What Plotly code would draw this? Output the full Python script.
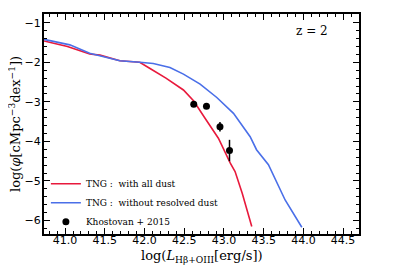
import plotly.graph_objects as go

# Red curve: TNG with all dust
red_x = [40.735, 41.03, 41.31, 41.44, 41.69, 41.94, 42.08, 42.27, 42.49, 42.62, 42.76, 42.93, 43.08, 43.14, 43.23, 43.35]
red_y = [-1.46, -1.60, -1.79, -1.82, -1.96, -2.00, -2.17, -2.40, -2.70, -2.98, -3.41, -3.92, -4.55, -4.76, -5.31, -6.15]

# Blue curve: TNG without resolved dust
blue_x = [40.735, 41.06, 41.31, 41.69, 41.94, 42.11, 42.32, 42.49, 42.70, 42.91, 43.12, 43.33, 43.41, 43.56, 43.77, 43.98]
blue_y = [-1.42, -1.56, -1.77, -1.96, -2.00, -2.03, -2.13, -2.30, -2.55, -2.89, -3.29, -3.88, -4.21, -4.59, -5.48, -6.17]

# Khostovan+2015 observations
obs_x = [42.62, 42.78, 42.95, 43.07]
obs_y = [-3.06, -3.11, -3.63, -4.23]
obs_err = [0.04, 0.04, 0.12, 0.27]

serif = "DejaVu Serif"
sans = "DejaVu Sans"

fig = go.Figure()
fig.add_trace(go.Scatter(x=red_x, y=red_y, mode="lines", line=dict(color="#e8193c", width=1.6),
                         name="TNG :  with all dust"))
fig.add_trace(go.Scatter(x=blue_x, y=blue_y, mode="lines", line=dict(color="#4a6fe8", width=1.6),
                         name="TNG :  without resolved dust"))
fig.add_trace(go.Scatter(x=obs_x, y=obs_y, mode="markers",
                         marker=dict(color="black", size=7),
                         error_y=dict(type="data", array=obs_err, color="black", thickness=1.5, width=0),
                         name="Khostovan + 2015"))

axis_common = dict(
    showgrid=False, zeroline=False, showline=True, linecolor="black", linewidth=2,
    mirror="allticks", ticks="inside", ticklen=6, tickwidth=1.2, tickcolor="black",
    tickfont=dict(family=sans, size=11, color="black"), automargin=False,
)

fig.update_xaxes(range=[40.735, 44.70], tickvals=[41.0, 41.5, 42.0, 42.5, 43.0, 43.5, 44.0, 44.5],
                 ticktext=["41.0", "41.5", "42.0", "42.5", "43.0", "43.5", "44.0", "44.5"],
                 ticklabelstandoff=-5,
                 minor=dict(dtick=0.1, tick0=41.0, ticks="inside", ticklen=3, tickcolor="black", tickwidth=1),
                 **axis_common)
fig.update_yaxes(range=[-6.34, -0.78], tickvals=[-1, -2, -3, -4, -5, -6],
                 ticktext=["−1", "−2", "−3", "−4", "−5", "−6"],
                 ticklabelstandoff=-1,
                 minor=dict(dtick=0.2, tick0=-6, ticks="inside", ticklen=3, tickcolor="black", tickwidth=1),
                 **axis_common)

# axis titles as annotations for precise placement
fig.add_annotation(x=0.5, y=-0.102, xref="paper", yref="paper", xanchor="center", yanchor="middle",
                   text="log(<i>L</i><sub>Hβ+OIII</sub>[erg/s])", showarrow=False,
                   font=dict(family=serif, size=13, color="black"))
fig.add_annotation(x=-0.092, y=0.5, xref="paper", yref="paper", xanchor="center", yanchor="middle",
                   textangle=-90, text="log(<i>φ</i>[cMpc<sup>−3</sup>dex<sup>−1</sup>])", showarrow=False,
                   font=dict(family=serif, size=13, color="black"))

fig.add_annotation(x=44.11, y=-1.21, xref="x", yref="y", text="z = 2", showarrow=False,
                   font=dict(family=serif, size=12, color="black"))

# page body has an 8px margin: figure starts at (8, 8) in the window
fig.update_layout(
    template="none",
    width=383, height=258,
    margin=dict(l=36, r=32, t=6, b=32, pad=0),
    paper_bgcolor="white", plot_bgcolor="white",
    showlegend=True,
    legend=dict(x=0.006, y=-0.01, xanchor="left", yanchor="bottom", bgcolor="rgba(0,0,0,0)",
                font=dict(family=serif, size=9, color="black"), itemwidth=30, tracegroupgap=0),
)

fig.write_html("out.html")
